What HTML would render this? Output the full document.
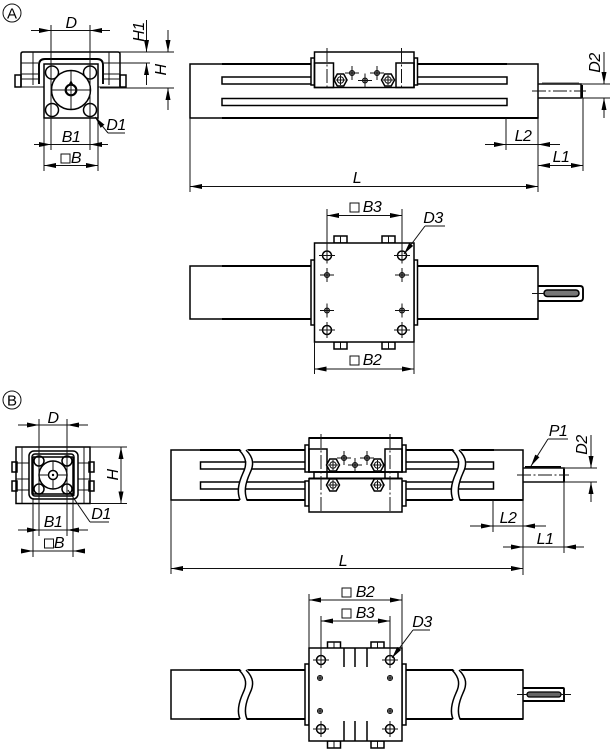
<!DOCTYPE html>
<html><head><meta charset="utf-8"><style>
html,body{margin:0;padding:0;background:#fff}
svg{display:block}
text{font-family:"Liberation Sans",sans-serif;font-style:italic;font-size:16px;letter-spacing:-.5px;fill:#000;text-anchor:middle}
text.n{font-style:normal;font-size:15px;letter-spacing:0}
.t{fill:none;stroke:#111;stroke-width:1}
.m{fill:none;stroke:#000;stroke-width:1.5}
.h{fill:none;stroke:#000;stroke-width:1.9}
.w{fill:#fff;stroke:#000;stroke-width:1.5}
.c{fill:none;stroke:#111;stroke-width:1;stroke-dasharray:14 2.5 2 2.500}
</style></head><body>
<svg width="612" height="750" viewBox="0 0 612 750" xmlns="http://www.w3.org/2000/svg">
<defs>
<marker id="a" markerUnits="userSpaceOnUse" markerWidth="13" markerHeight="6" refX="12" refY="3" orient="auto-start-reverse"><path d="M0 .5L12 3L0 5.500Z" fill="#000"/></marker>
<g id="hex"><path class="w" d="M-6.500 0L-3.200 -6H3.200L6.500 0L3.200 6H-3.200Z"/><circle class="t" r="3.200"/><path class="t" d="M-5 0H5M0 -5V5"/></g>
<g id="bh"><circle class="m" r="4.500" fill="#fff"/><path class="t" d="M-8 0H8M0 -8V8"/></g>
<g id="sh"><circle r="2.500" fill="#888" stroke="#000" stroke-width="1"/><path class="t" d="M-7 0H7M0 -7V7"/></g>
<g id="sb"><circle r="2.500" fill="#aaa" stroke="#000" stroke-width="1"/><path class="t" d="M-2.500 0H2.500M0 -2.500V2.500"/></g>
<g id="bolt"><rect class="m" x="0" y="0" width="13" height="7" fill="#fff"/><path class="t" d="M6.500 0V7"/></g>
</defs>

<!-- A label -->
<circle class="t" cx="12" cy="13" r="9"/><text class="n" x="12" y="18.500">A</text>

<!-- A side view -->
<path class="m" d="M21 87V54Q21 52 23 52H118Q120 52 120 54V87"/>
<path class="t" d="M33 52V85M109 52V85M21 63H38M104 63H120M21 74H38M104 74H120"/>
<rect class="m" x="15" y="75" width="6" height="12"/><rect class="m" x="120" y="75" width="6" height="12"/>
<path class="t" d="M21 79H38M104 79H120M21 87H44M98 87H120"/>
<path class="h" d="M39 84V65Q39 59 45 59H97Q103 59 103 65V84"/>
<rect class="m" x="44" y="64" width="54" height="54" fill="#fff"/>
<g fill="#fff"><circle class="m" cx="52" cy="72.500" r="6.500"/><circle class="m" cx="90" cy="72.500" r="6.500"/><circle class="m" cx="52" cy="110" r="6.500"/><circle class="m" cx="90" cy="110" r="6.500"/></g>
<circle class="m" cx="71" cy="90" r="19.500"/>
<circle cx="71" cy="90" r="5.300" fill="none" stroke="#000" stroke-width="2.200"/>
<path class="t" d="M52 90H90M71 71V109M68 90H74M71 87V93"/>
<path d="M69 84L71 80L73 84Z" fill="#000"/>
<path class="t" d="M51 25V150M90 25V150M44 118V171M98 118V171M120 52H174M110 63H150M100 88H174"/>
<path class="t" d="M31 30.500H51" marker-end="url(#a)"/><path class="t" d="M110 30.500H90" marker-end="url(#a)"/><path class="t" d="M51 30.500H90"/>
<text x="71" y="28">D</text>
<path class="t" d="M146.500 20V52" marker-end="url(#a)"/><path class="t" d="M146.500 85V63" marker-end="url(#a)"/>
<path class="t" d="M168 30V52" marker-end="url(#a)"/><path class="t" d="M168 110V88" marker-end="url(#a)"/>
<text transform="translate(144 32) rotate(-90)">H1</text>
<text transform="translate(166 70) rotate(-90)">H</text>
<path class="t" d="M34 144.500H51" marker-end="url(#a)"/><path class="t" d="M108 144.500H90" marker-end="url(#a)"/><path class="t" d="M51 144.500H90"/>
<text x="71" y="142">B1</text>
<path class="t" d="M44 165.500H98" marker-start="url(#a)" marker-end="url(#a)"/>
<rect class="t" x="61" y="154" width="9" height="9"/><text x="76" y="163">B</text>
<path class="t" d="M108 133L95 117" marker-end="url(#a)"/><path class="t" d="M108 133H125"/>
<text x="116" y="130">D1</text>

<!-- A main view -->
<rect class="m" x="190" y="64" width="348" height="54"/>
<path class="h" d="M222 64H507M222 118H538"/>
<rect class="m" x="222" y="77" width="285" height="7"/>
<rect class="m" x="222" y="98.500" width="285" height="7"/>
<rect class="w" x="311" y="58" width="3.500" height="27"/><rect class="w" x="414" y="58" width="3.500" height="27"/>
<rect class="w" x="314.500" y="52" width="99.500" height="35.500"/>
<rect class="m" x="314.500" y="63" width="19" height="24.500"/><rect class="m" x="396" y="63" width="18" height="24.500"/>
<path class="c" d="M327 48V90M401.500 48V90"/>
<use href="#hex" x="340.500" y="80"/><use href="#hex" x="388" y="80"/>
<use href="#sh" x="352" y="73"/><use href="#sh" x="365" y="80.500"/><use href="#sh" x="377" y="73"/>
<path class="m" d="M538 84H581V98H538"/><path d="M542 82.500H579V84.500H542Z" fill="#444"/>
<path d="M580.500 85H583V98H580.500Z" fill="#000"/>
<path class="c" d="M532 91H586"/>
<path class="t" d="M538 84H610M538 98H610"/>
<path class="t" d="M604 52V84" marker-end="url(#a)"/><path class="t" d="M604 118V98" marker-end="url(#a)"/>
<text transform="translate(600 63) rotate(-90)">D2</text>
<path class="t" d="M506 118V150M538 118V192M583 98V171M190 118V192"/>
<path class="t" d="M485 144.500H506" marker-end="url(#a)"/><path class="t" d="M560 144.500H538" marker-end="url(#a)"/><path class="t" d="M506 144.500H538"/>
<text x="523" y="141">L2</text>
<path class="t" d="M538 165.500H583" marker-start="url(#a)" marker-end="url(#a)"/>
<text x="561" y="162">L1</text>
<path class="t" d="M190 186.500H538" marker-start="url(#a)" marker-end="url(#a)" stroke-width="1.200"/>
<text x="357" y="183">L</text>

<!-- A lower view -->
<rect class="m" x="190" y="266" width="348" height="53"/>
<path class="h" d="M222 266H311M222 319H311M418 266H538M418 319H538"/>
<use href="#bolt" x="334" y="236"/><use href="#bolt" x="382" y="236"/><use href="#bolt" x="334" y="342"/><use href="#bolt" x="382" y="342"/>
<rect class="w" x="311" y="260" width="3.500" height="65"/><rect class="w" x="414" y="260" width="3.500" height="65"/>
<rect class="w" x="314.500" y="243" width="99.500" height="99"/>
<use href="#bh" x="327" y="255.500"/><use href="#bh" x="402" y="255.500"/><use href="#bh" x="327" y="330"/><use href="#bh" x="402" y="330"/>
<use href="#sh" x="327" y="275"/><use href="#sh" x="402" y="275"/><use href="#sh" x="327" y="310.500"/><use href="#sh" x="402" y="310.500"/>
<path class="h" d="M538 286H580Q583 286 583 289V298Q583 301 580 301H538"/>
<rect x="544" y="290" width="35" height="6.500" rx="3.200" fill="#777" stroke="#000" stroke-width="1.500"/>
<path class="t" d="M532 293.500H544"/>
<path class="t" d="M327 209V255M402 209V255M314.500 342V374M414 342V374"/>
<path class="t" d="M327 215.500H402" marker-start="url(#a)" marker-end="url(#a)"/>
<rect class="t" x="350" y="203" width="9" height="9"/><text x="372" y="212">B3</text>
<path class="t" d="M314.500 369H414" marker-start="url(#a)" marker-end="url(#a)"/>
<rect class="t" x="350" y="356" width="9" height="9"/><text x="372" y="365">B2</text>
<path class="t" d="M425 226L404 254" marker-end="url(#a)"/><path class="t" d="M425 226H445"/>
<text x="433" y="223">D3</text>

<!-- B label -->
<circle class="t" cx="12" cy="400" r="9"/><text class="n" x="12" y="405.500">B</text>

<!-- B side view -->
<path class="m" d="M16 447H90V503.500H16Z"/>
<path class="t" d="M16 463H90M16 479H90M16 490H90M22 447V503M84 447V503"/>
<rect class="m" x="12" y="462" width="5" height="10"/><rect class="m" x="12" y="481" width="5" height="10"/><rect class="m" x="89" y="462" width="5" height="10"/><rect class="m" x="89" y="481" width="5" height="10"/>
<rect class="w" x="29" y="451" width="49" height="48" rx="5"/>
<rect class="m" x="32" y="454" width="42" height="42" rx="3" fill="#fff"/>
<path class="m" d="M33 457H73M33 494H73M33 457V494M73 457V494"/>
<g><circle class="m" cx="39" cy="461" r="5" fill="#fff"/><circle class="m" cx="67" cy="461" r="5" fill="#fff"/><circle class="m" cx="39" cy="489" r="5" fill="#fff"/><circle class="m" cx="67" cy="489" r="5" fill="#fff"/></g>
<circle class="m" cx="53" cy="475" r="14"/><circle class="m" cx="53" cy="475" r="4.500"/><circle cx="53" cy="475" r="1.200" fill="#000"/>
<path class="t" d="M39 419V536M67 419V536M33 498V557M73 498V557M90 447H127M90 503.500H127M53 461V470M53 480V489M39 475H48M58 475H67"/>
<path class="t" d="M18 425H39" marker-end="url(#a)"/><path class="t" d="M88 425H67" marker-end="url(#a)"/><path class="t" d="M39 425H67"/>
<text x="53" y="423">D</text>
<path class="t" d="M121 447V503.500" marker-start="url(#a)" marker-end="url(#a)"/>
<text transform="translate(118 475) rotate(-90)">H</text>
<path class="t" d="M90 522L68 490"/><path class="t" d="M90 522H109"/><path d="M68 491L73 497L75 495Z" fill="#000"/>
<text x="101" y="519">D1</text>
<path class="t" d="M18 530H39" marker-end="url(#a)"/><path class="t" d="M88 530H67" marker-end="url(#a)"/><path class="t" d="M39 530H67"/>
<text x="53" y="527">B1</text>
<path class="t" d="M22 551H33" marker-end="url(#a)"/><path class="t" d="M84 551H73" marker-end="url(#a)"/><path class="t" d="M33 551H73"/>
<rect class="t" x="44.500" y="539" width="9" height="9"/><text x="59" y="548">B</text>

<!-- B main view -->
<rect class="m" x="171" y="450" width="352" height="50"/>
<path class="h" d="M200 450H494M200 500H523"/>
<rect class="m" x="200.500" y="462" width="293" height="7"/>
<rect class="m" x="200.500" y="482" width="293" height="7"/>
<path d="M239 448C249 458 247 465 243 473C238 484 237 492 240 502H247C244 492 245 484 250 473C254 465 256 458 246 448Z" fill="#fff"/>
<path class="m" d="M239 450C247 458 247 465 243 473C238 484 237 492 240 500M246 450C254 458 254 465 250 473C245 484 244 492 247 500"/>
<path d="M452 448C462 458 460 465 456 473C451 484 450 492 453 502H460C457 492 458 484 463 473C467 465 469 458 459 448Z" fill="#fff"/>
<path class="m" d="M452 450C460 458 460 465 456 473C451 484 450 492 453 500M459 450C467 458 467 465 463 473C458 484 457 492 460 500"/>
<rect class="w" x="305" y="445" width="4" height="27"/><rect class="w" x="402" y="445" width="4" height="27"/>
<rect class="w" x="305" y="481" width="4" height="25"/><rect class="w" x="402" y="481" width="4" height="25"/>
<rect class="w" x="309" y="438" width="93" height="34"/>
<rect class="m" x="314" y="472" width="13" height="6.500" fill="#fff"/><rect class="m" x="385" y="472" width="13" height="6.500" fill="#fff"/>
<path class="h" d="M327 472H385"/>
<rect class="w" x="309" y="478.500" width="93" height="33.500"/>
<path class="h" d="M309 438H402M309 478.500H402"/>
<rect class="m" x="309" y="449" width="18" height="23"/><rect class="m" x="385" y="449" width="17" height="23"/>
<path class="c" d="M321 434V512M390 434V512"/>
<use href="#hex" x="333" y="465"/><use href="#hex" x="377.500" y="465"/><use href="#hex" x="333" y="485"/><use href="#hex" x="377.500" y="485"/>
<use href="#sh" x="344" y="458"/><use href="#sh" x="355" y="465"/><use href="#sh" x="367" y="458"/>
<path class="m" d="M523 468H564V482H523"/><path d="M525 466H561V468.500H525Z" fill="#000"/>
<path d="M563 469H565V482H563Z" fill="#000"/>
<path class="c" d="M517 475H569"/>
<path class="t" d="M523 468H597M523 482H597"/>
<path class="t" d="M591 435V468" marker-end="url(#a)"/><path class="t" d="M591 502V482" marker-end="url(#a)"/>
<text transform="translate(587 445) rotate(-90)">D2</text>
<path class="t" d="M548 439L531 466" marker-end="url(#a)"/><path class="t" d="M548 439H568"/>
<text x="558" y="436">P1</text>
<path class="t" d="M493 500V532M523 500V575M564 482V553M171 500V574"/>
<path class="t" d="M470 526H493" marker-end="url(#a)"/><path class="t" d="M546 526H523" marker-end="url(#a)"/><path class="t" d="M493 526H523"/>
<text x="508" y="523">L2</text>
<path class="t" d="M503 547H523" marker-end="url(#a)"/><path class="t" d="M584 547H564" marker-end="url(#a)"/><path class="t" d="M523 547H564"/>
<text x="545" y="544">L1</text>
<path class="t" d="M171 568.500H523" marker-start="url(#a)" marker-end="url(#a)"/>
<text x="343" y="566">L</text>

<!-- B lower view -->
<rect class="m" x="171" y="670" width="352" height="49"/>
<path class="h" d="M200 670H305M200 719H305M406 670H523M406 719H523"/>
<path d="M239 668C249 678 247 685 243 693C238 704 237 712 240 721H247C244 712 245 704 250 693C254 685 256 678 246 668Z" fill="#fff"/>
<path class="m" d="M239 670C247 678 247 685 243 693C238 704 237 712 240 719M246 670C254 678 254 685 250 693C245 704 244 712 247 719"/>
<path d="M452 668C462 678 460 685 456 693C451 704 450 712 453 721H460C457 712 458 704 463 693C467 685 469 678 459 668Z" fill="#fff"/>
<path class="m" d="M452 670C460 678 460 685 456 693C451 704 450 712 453 719M459 670C467 678 467 685 463 693C458 704 457 712 460 719"/>
<use href="#bolt" x="327.500" y="642"/><use href="#bolt" x="371" y="642"/><use href="#bolt" x="327.500" y="741"/><use href="#bolt" x="371" y="741"/>
<rect class="w" x="305" y="664" width="4" height="61"/><rect class="w" x="402" y="664" width="4" height="61"/>
<rect class="w" x="309" y="648" width="93" height="93"/>
<path class="m" d="M344 648V667M355 648V667M367 648V667M344 721V741M355 721V741M367 721V741"/>
<use href="#bh" x="321" y="660"/><use href="#bh" x="390" y="660"/><use href="#bh" x="321" y="729"/><use href="#bh" x="390" y="729"/>
<use href="#sb" x="320" y="678"/><use href="#sb" x="390" y="678"/><use href="#sb" x="320" y="711"/><use href="#sb" x="390" y="711"/>
<path class="h" d="M523 688H563Q564 688 564 689V701H523"/>
<rect x="527" y="692" width="34" height="5" rx="2.500" fill="#666" stroke="#000" stroke-width="1.300"/>
<path class="t" d="M517 694.500H527M561 694.500H571"/>
<path class="t" d="M309 594V648M402 594V648M321 616V655M390 616V655"/>
<path class="t" d="M309 600H402" marker-start="url(#a)" marker-end="url(#a)"/>
<rect class="t" x="342" y="588" width="9" height="9"/><text x="365" y="597">B2</text>
<path class="t" d="M321 621H390" marker-start="url(#a)" marker-end="url(#a)"/>
<rect class="t" x="342" y="609" width="9" height="9"/><text x="365" y="618">B3</text>
<path class="t" d="M413 630L392 658" marker-end="url(#a)"/><path class="t" d="M413 630H430"/>
<text x="422" y="627">D3</text>
</svg>
</body></html>
